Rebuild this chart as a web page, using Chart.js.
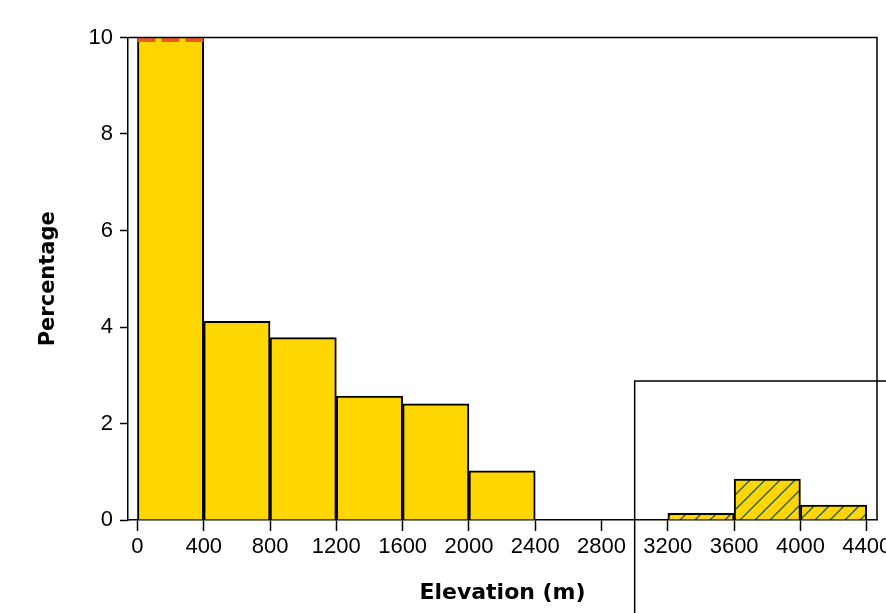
<!DOCTYPE html>
<html>
<head>
<meta charset="utf-8">
<title>Elevation histogram</title>
<script src="https://cdn.jsdelivr.net/npm/chart.js@4.4.1/dist/chart.umd.min.js"></script>
<style>
  html, body { margin: 0; padding: 0; background: #fff; }
  #wrap { width: 886px; height: 613px; }
</style>
</head>
<body>
<div id="wrap"><canvas id="chart" width="886" height="613"></canvas></div>
<script>
const binWidth = 400;
const lowBins = [0, 400, 800, 1200, 1600, 2000, 2400, 2800];
const lowPct = [12.0, 4.12, 3.78, 2.57, 2.41, 1.02, 0, 0];   // first bar runs past the axis top
const highBins = [3200, 3600, 4000];
const highPct = [0.14, 0.85, 0.31];
const xTicks = [0, 400, 800, 1200, 1600, 2000, 2400, 2800, 3200, 3600, 4000, 4400];
const yTicks = [0, 2, 4, 6, 8, 10];
const yMax = 10;
const clipFrom = 0, clipTo = 400;      // bar that is cut off at the top
const insetX = 3000, insetY = 2.88;    // frame round the high elevation bars

const gold = '#ffd600';
const ink = '#000';

// 📐 hatch fill for the high bins
function makeHatch() {
  const c = document.createElement('canvas');
  c.width = 15; c.height = 15;
  const g = c.getContext('2d');
  g.fillStyle = gold;
  g.fillRect(0, 0, 15, 15);
  g.strokeStyle = '#1d5668';
  g.lineWidth = 1.3;
  g.beginPath();
  g.moveTo(-1, 16); g.lineTo(16, -1);
  g.moveTo(-1, 1); g.lineTo(1, -1);
  g.moveTo(14, 16); g.lineTo(16, 14);
  g.stroke();
  return document.getElementById('chart').getContext('2d').createPattern(c, 'repeat');
}

const toPoints = (bins, vals) => bins.map((b, i) => ({ x: b + binWidth / 2, y: vals[i] }));

// 🖼Ô∏è frame lines and the inset box
const framePlugin = {
  id: 'frame',
  afterDraw(chart) {
    const { ctx, chartArea: a, scales: { x, y } } = chart;
    ctx.save();
    ctx.strokeStyle = ink;
    ctx.lineWidth = 1.5;
    ctx.beginPath();
    ctx.moveTo(a.left, a.top);
    ctx.lineTo(a.right, a.top);
    ctx.lineTo(a.right, a.bottom);
    const bx = x.getPixelForValue(insetX);
    const by = y.getPixelForValue(insetY);
    ctx.moveTo(bx, chart.height);
    ctx.lineTo(bx, by);
    ctx.lineTo(chart.width, by);
    ctx.stroke();
    ctx.restore();
  }
};

const tickFont = { family: '"Liberation Sans", Arial, sans-serif', size: 22 };
const titleFont = { family: '"DejaVu Sans", sans-serif', size: 22, weight: 'bold' };

new Chart(document.getElementById('chart'), {
  type: 'bar',
  data: {
    datasets: [
      {
        type: 'line',
        data: [{ x: clipFrom, y: yMax }, { x: clipTo, y: yMax }],
        borderColor: '#ef5a24',
        borderWidth: 9,
        borderDash: [18, 6],
        pointRadius: 0,
        clip: 0,
        order: 0
      },
      {
        label: 'Percentage',
        data: toPoints(lowBins, lowPct),
        backgroundColor: gold,
        borderColor: ink,
        borderWidth: 2,
        barPercentage: 1,
        categoryPercentage: 1,
        grouped: false,
        clip: 0,
        order: 1
      },
      {
        label: 'Percentage (high)',
        data: toPoints(highBins, highPct),
        backgroundColor: makeHatch(),
        borderColor: ink,
        borderWidth: 2,
        barPercentage: 1,
        categoryPercentage: 1,
        grouped: false,
        clip: 0,
        order: 1
      }
    ]
  },
  options: {
    responsive: false,
    animation: false,
    layout: { padding: { top: 37.5, right: 9, bottom: 0, left: 0 } },
    plugins: {
      legend: { display: false },
      tooltip: { enabled: false }
    },
    scales: {
      x: {
        type: 'linear',
        offset: false,
        min: -57,
        max: 4462,
        afterBuildTicks: s => { s.ticks = xTicks.map(v => ({ value: v })); },
        afterFit: s => { s.height = 93; s.paddingLeft = 0; s.paddingRight = 0; },
        ticks: { color: ink, font: tickFont, padding: 3, maxRotation: 0, autoSkip: false, callback: v => String(v) },
        grid: { offset: false, drawOnChartArea: false, drawTicks: true, tickLength: 11, tickWidth: 1.5, color: ink },
        border: { display: true, color: ink, width: 1.5 },
        title: { display: true, text: 'Elevation (m)', color: ink, font: titleFont, padding: { top: 0, bottom: 7 } }
      },
      y: {
        min: 0,
        max: yMax,
        afterBuildTicks: s => { s.ticks = yTicks.map(v => ({ value: v })); },
        afterFit: s => { s.width = 128; s.paddingTop = 0; s.paddingBottom = 0; },
        ticks: { color: ink, font: tickFont, padding: 7 },
        grid: { drawOnChartArea: false, drawTicks: true, tickLength: 8, tickWidth: 1.5, color: ink },
        border: { display: true, color: ink, width: 1.5 },
        title: { display: true, text: 'Percentage', color: ink, font: { ...titleFont, size: 21 }, padding: { top: 36, bottom: 0 } }
      }
    }
  },
  plugins: [framePlugin]
});
</script>
</body>
</html>
